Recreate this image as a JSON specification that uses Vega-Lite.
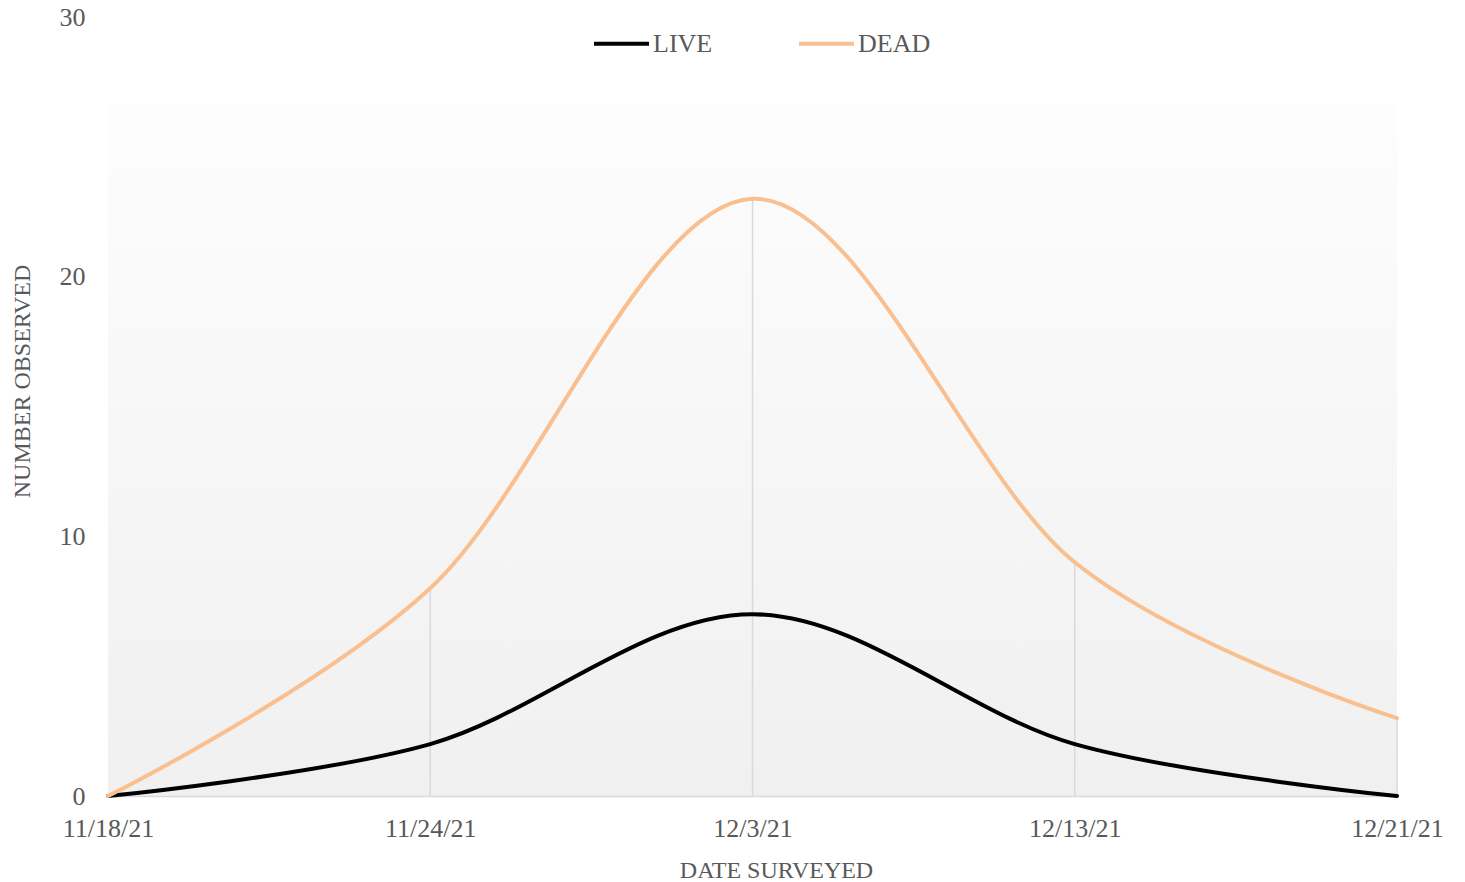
{
  "$schema": "https://vega.github.io/schema/vega-lite/v6.json",
  "width": 1289,
  "height": 779,
  "autosize": {"type": "none"},
  "padding": {"left": 108, "top": 17, "right": 68, "bottom": 86},
  "background": "#ffffff",
  "config": {
    "font": "Liberation Serif",
    "view": {
      "stroke": null,
      "fill": {
        "gradient": "linear",
        "x1": 0, "y1": 0, "x2": 0, "y2": 1,
        "stops": [
          {"offset": 0, "color": "#ffffff"},
          {"offset": 0.112, "color": "#ffffff"},
          {"offset": 0.114, "color": "#fdfdfd"},
          {"offset": 1, "color": "#f0f0f0"}
        ]
      }
    }
  },
  "datasets": {
    "series": [
      {"date": "11/18/21", "series": "LIVE", "count": 0},
      {"date": "11/24/21", "series": "LIVE", "count": 2},
      {"date": "12/3/21", "series": "LIVE", "count": 7},
      {"date": "12/13/21", "series": "LIVE", "count": 2},
      {"date": "12/21/21", "series": "LIVE", "count": 0},
      {"date": "11/18/21", "series": "DEAD", "count": 0},
      {"date": "11/24/21", "series": "DEAD", "count": 8},
      {"date": "12/3/21", "series": "DEAD", "count": 23},
      {"date": "12/13/21", "series": "DEAD", "count": 9},
      {"date": "12/21/21", "series": "DEAD", "count": 3}
    ],
    "drops": [
      {"date": "11/18/21", "top": 0},
      {"date": "11/24/21", "top": 8},
      {"date": "12/3/21", "top": 23},
      {"date": "12/13/21", "top": 9},
      {"date": "12/21/21", "top": 3}
    ]
  },
  "encoding": {
    "x": {
      "field": "date",
      "type": "ordinal",
      "sort": null,
      "scale": {"type": "point", "padding": 0},
      "axis": {
        "title": "DATE SURVEYED",
        "labelAngle": 0,
        "domainColor": "#d9d9d9",
        "domainWidth": 1.5,
        "ticks": false,
        "grid": false,
        "labelPadding": 19,
        "labelFontSize": 26,
        "labelColor": "#595959",
        "titleFontSize": 24,
        "titleFontWeight": "normal",
        "titleColor": "#595959",
        "titleBaseline": "alphabetic",
        "titleX": 668,
        "titleY": 81
      }
    }
  },
  "layer": [
    {
      "data": {"name": "drops"},
      "mark": {"type": "rule", "color": "#d9d9d9", "strokeWidth": 1.5},
      "encoding": {
        "y": {"field": "top", "type": "quantitative"},
        "y2": {"datum": 0}
      }
    },
    {
      "data": {"name": "series"},
      "mark": {"type": "line", "interpolate": "cardinal", "strokeWidth": 4, "strokeCap": "round"},
      "encoding": {
        "y": {
          "field": "count",
          "type": "quantitative",
          "scale": {"domain": [0, 30], "nice": false},
          "axis": {
            "title": "NUMBER OBSERVED",
            "values": [0, 10, 20, 30],
            "domain": false,
            "ticks": false,
            "grid": false,
            "labelPadding": 23,
            "labelFontSize": 26,
            "labelColor": "#595959",
            "titleFontSize": 24,
            "titleFontWeight": "normal",
            "titleColor": "#595959",
            "titleAngle": -90,
            "titleBaseline": "alphabetic",
            "titleX": -79,
            "titleY": 364
          }
        },
        "color": {
          "field": "series",
          "type": "nominal",
          "sort": ["LIVE", "DEAD"],
          "scale": {"domain": ["LIVE", "DEAD"], "range": ["#000000", "#f9bf8f"]},
          "legend": {
            "title": null,
            "orient": "none",
            "direction": "horizontal",
            "legendX": 484,
            "legendY": -3,
            "padding": 0,
            "symbolType": "stroke",
            "symbolSize": 3025,
            "symbolStrokeWidth": 4,
            "labelFontSize": 26,
            "labelColor": "#595959",
            "labelOffset": 2,
            "columnPadding": 78
          }
        }
      }
    }
  ]
}
